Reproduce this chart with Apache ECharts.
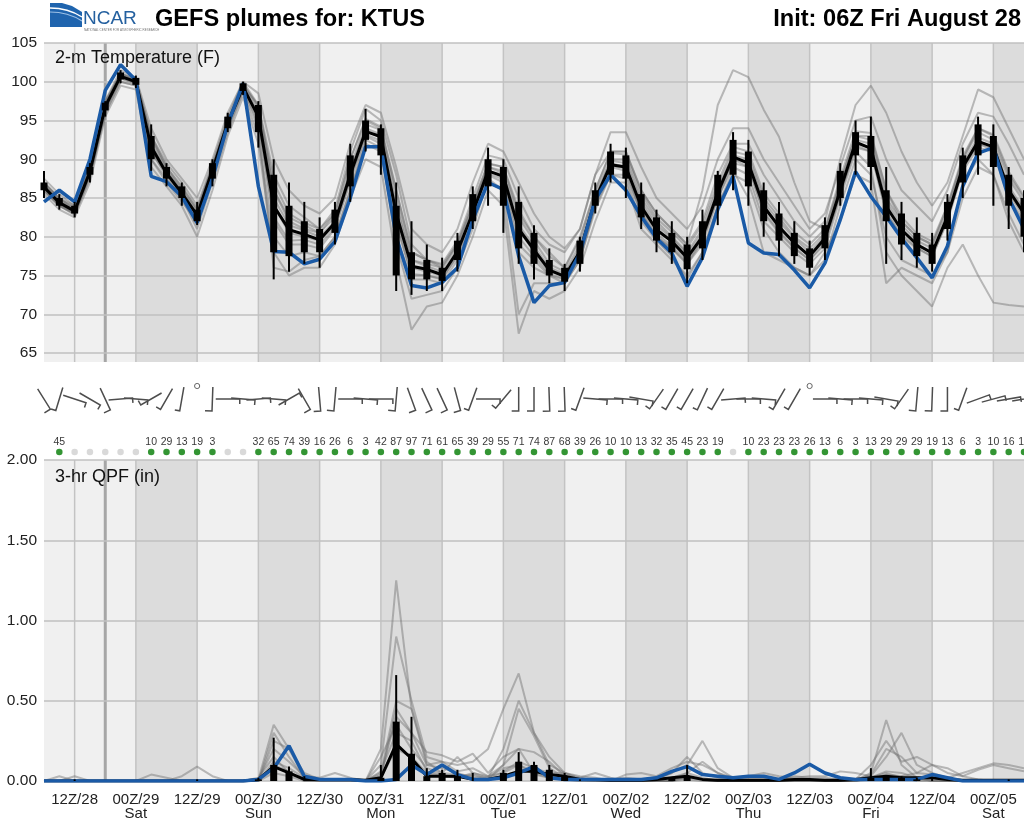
<!DOCTYPE html>
<html><head><meta charset="utf-8">
<script src="https://cdn.jsdelivr.net/npm/echarts@6/dist/echarts.min.js"></script>
<style>html,body{margin:0;padding:0;background:#fff}#c{width:1024px;height:820px}</style>
</head><body><div id="c"></div>
<script>
// ---- time axis (hours since 00Z Aug 28), 3-hourly ----
const hours = [6,9,12,15,18,21,24,27,30,33,36,39,42,45,48,51,54,57,60,63,66,69,72,75,78,81,84,87,90,93,96,99,102,105,108,111,114,117,120,123,126,129,132,135,138,141,144,147,150,153,156,159,162,165,168,171,174,177,180,183,186,189,192,195,198];
const tickHours = [12,24,36,48,60,72,84,96,108,120,132,144,156,168,180,192];
const tickLabels = ['12Z/28','00Z/29\nSat','12Z/29','00Z/30\nSun','12Z/30','00Z/31\nMon','12Z/31','00Z/01\nTue','12Z/01','00Z/02\nWed','12Z/02','00Z/03\nThu','12Z/03','00Z/04\nFri','12Z/04','00Z/05\nSat'];
const nightStart = [24,48,72,96,120,144,168,192];
const nightEnd   = [36,60,84,108,132,156,180,198];
const nowHour = 18;

// ---- 2-m temperature (F) ----
const tMean = [86.4,84.4,83.3,88.4,96.8,100.7,100,91.6,88.2,85.6,82.8,88.6,94.7,99.3,95.5,84,80.9,80.3,79.6,81.8,88,93.6,92.9,83,76.2,75.8,75.1,78.1,83.1,88.5,87.8,81,78.3,75.7,74.9,78.1,84.8,89.3,89,83.9,80.9,79.4,77.3,80,85.7,90.3,89.5,83.9,81.3,79.2,77.5,79.8,86,92.2,91.4,83.9,80.9,79,77.9,82.6,89,92.3,91.6,86,83];
const tDet = [84.5,86,84.5,90,98.9,102.2,100.2,87.8,87.1,85.2,81.8,87.5,94.5,99.8,86.5,78.1,78,76.5,77.1,79.4,85,91.6,91.6,80,73.7,73.4,74.1,76,82.2,87,86.1,77.5,71.5,73.7,74.1,77.9,84.8,88,86,82.6,79.8,77.9,73.6,77.3,83.5,87.8,79.2,77.9,77.7,75.7,73.4,76.6,82.2,88.4,85.2,82.6,79.8,77.3,74.7,78.8,86.5,90.8,91.5,85,81];
const tWhLo = [85,83.5,82.5,87,95.5,99.8,99.2,88.5,86.5,84,81.5,86.5,93.5,98.3,91.5,74.5,75.5,76.5,76,79,84.5,91,88,73,72.5,73,73,75.5,81,84,80.5,76.5,74.5,74,73,75.5,83,87,85,81,78,76.5,74,77,81.5,86,84,80,77.5,76.5,75,77,84,88,86,76.5,77,76,75.5,79.5,85,88,84,81,78];
const tBoxLo = [86,84,83,88,96.3,100.3,99.6,90,87.5,85,82,87.5,94,98.8,93.5,78,77.5,78,78,80.5,86.5,92.5,90.5,75,74.5,74.5,74.3,77,82,86.5,84,78.5,76.5,75,74.2,76.5,84,88,87.5,82.5,79.5,78,75.8,78.5,84,88,86.5,82,79.5,77.5,76,78.5,85,90.5,89,82,79,77.5,76.5,81,87,90.5,89,84,80];
const tBoxHi = [87,85,84,89,97.3,101.2,100.5,93,89,86.5,83.5,89.5,95.5,99.8,97,88,84,82,81,83.5,90.5,95,94,84,78,77,76,79.5,85.5,90,89,84.5,80.5,77,76,79.5,86,91,90.5,85.5,82.5,80.5,79,82,88,92.5,91,86,83,80.5,78.5,81.5,88.5,93.5,93,86,83,80.5,79,84.5,90.5,94.5,93,88,85];
const tWhHi = [88.5,85.5,84.5,89.5,97.5,101.5,100.8,94.5,89.5,87,84.5,90,96,100,97.5,90,87,84.5,82.5,84.5,92,96.5,94.5,87,82,79,77.3,80.5,86.5,91.5,90,86.5,81.5,78.5,76.5,80,87,92,91.5,87,83.5,82,80,83.5,88.5,93.5,92.5,87,84.5,82,79.5,82.5,89.5,95,95.5,89,84.5,82.5,80.5,85.5,91.5,95.5,94.5,89,86];
const tMem1 = [87,85,84,89,97.5,101,100.5,93,89.5,87,84,89.5,95.5,100,97,88,84,82.5,81,83.5,91,96.5,95,88,79,77,76.5,79.5,85,90.5,90,85,81,79,78,81,88,91,91,86,83,81,79,86,97,101.5,100.6,96.4,92.9,87,82,81,87,93,93,86,82,80,79,84,90,94,93,88,85];
const tMem2 = [86,84,83,87.5,96,100,99.5,90,87,84.5,82,87.5,94,98.5,93,80,77.5,78,77.5,80,86,92,91,80,74.5,74.5,74,77,82,87,86,78,76,75,74,77,84,88,88,83,80,78.5,76.5,79,85,89,88,82,80,78,76.5,78.5,85,91,89,78,75,73,71,76,79,75,71.5,71.2,71];
const tMem3 = [85.5,83.5,82.5,87,95.5,99.5,99,89,86.5,84,80,86,93,98,92,78,75,76,76,79,85,90,89,77,68,71,71.5,75,80,86,84,67.5,73,72,73,76,82,87,87,81,79,77,75,78,84,88,87,81,78,76,75,77,84,90,88,80,77,76,75,78,87,90,88,82,78];
const tMem4 = [87.5,85.5,84,89.5,97.5,101.5,100.5,94,90,87.5,85,90,96,100,98.5,90,86,84,83,85,92,97,96,89,81,79,78,81,87,92,91,87,83,80,78.5,81,88,93.5,93.5,89,85,83,81,84,90,94,94,90,87,84,81,83,89,95,95.5,90,86,84,82,86,92,96,95.5,92,88];
const tMem5 = [87,85,83.5,89,97,101,100,93,89,86.5,83.5,89,95,99.5,97,86,82,81,80.5,83,90,95,94,86,78,77,76,79,84,89.5,89,83,80,78,76,80,86,91,91,86,83,81,79,82,88,92,92,88,85,82,80,82,90,97,99.5,96,91,87,84,87,93,99,98,94,90];
const tMem6 = [86,84,83,88,96.5,100.5,99.8,91,88,85.5,82.5,88,94.5,99,95,82,79,79,78.5,81,87,93,92,82,75,75,74.5,77.5,82.5,88,87,79,77,75,74.5,77.5,84,89,88.5,83,80,78.5,76.5,79.5,85,89.5,89,83,80.5,78.5,77,79,85.5,91.5,91,83,80,78.5,77.5,82,88.5,91.5,91,85,82];
const tMem7 = [86.8,84.8,83.6,88.8,97.2,101,100.2,92.5,88.8,86,83.3,89,95,99.6,96.5,86,82.5,81.5,80.5,82.5,89,94.5,93.8,85,77,76.5,76,79,84,89,88.5,82.5,79.5,76.5,75.5,79,85.5,90,90,85,82,80,78,81,86.5,91,90.5,85,82.5,80,78.5,80.5,87,93,92.5,85,82,80,79,83.5,90,93.5,92.5,87.5,84.5];
const tMem8 = [85.8,84,82.8,87.8,96,100,99.5,90,87.5,85,81,87,93.5,98.8,94,76,75.5,77,77.5,80,86,92.5,91.5,79,72,72.5,73,76,81,87.5,86,70,74,74,74,77,83.5,88,87.5,82,79.5,77.5,74.5,78,84,88.5,85,78,77,76,75,78,82,88,87,74,76,75,74,78,85,89,88,83,79];
const tMem9 = [86.2,84.2,83.2,88.2,96.6,100.6,99.9,91.8,88.3,85.8,82.8,88.5,94.6,99.2,95.8,84,80.5,80,79.5,81.5,88,93.5,93,83,76,75.5,75,78,83,88.5,88,81,78,75.5,75,78,84.5,89.5,89,84,81,79.5,77,80,85.5,90,89.5,84,81.5,79,77.5,80,86,92,91.5,84,81,79,78,82.5,89,92,91.5,86,83];
const tMem10 = [86.6,84.6,83.4,88.6,97,100.8,100.1,92,88.5,85.9,83,88.8,94.8,99.4,96,85,81.5,80.8,80,82,88.5,94,93.2,84,77,76.2,75.5,78.5,83.5,89,88.2,81.5,78.8,76,75.2,78.5,85,89.8,89.5,84.5,81.5,79.8,77.8,80.5,86,90.5,90,84.5,82,79.8,78,80.2,86.5,92.5,92,84.5,81.5,79.5,78.5,83,89.5,92.8,92,86.5,83.5];
const tMem11 = [86.3,84.1,83,88.1,96.4,100.4,99.7,91,87.8,85.3,82.4,88.2,94.3,99,94.6,82.5,79.5,79.6,79,81.2,87.4,93.2,92.4,81.5,75.2,75,74.6,77.6,82.8,88.2,87.4,80,77.5,75.2,74.6,77.6,84.2,89.2,88.8,83.4,80.4,78.8,76.8,79.6,85.4,90,89,83.2,80.8,78.6,77,79.4,85.6,91.8,91,83.2,80.3,78.6,77.4,82.2,88.8,92,91.2,85.6,82.6];
const tMem12 = [86.9,84.9,83.8,89,97.3,101.1,100.3,92.8,89,86.3,83.6,89.2,95.2,99.7,96.8,87,83,81.8,81,83,90,95.2,94.2,86,78,77,76.3,79.2,84.4,89.4,89,83.5,80,77.5,76,79.6,86,90.8,90.6,85.6,82.4,80.6,78.6,81.6,87,91.6,91,85.6,83,80.6,79,81,87.6,93.6,93.4,86,82.6,80.4,79.4,84,90.4,94,93.2,88.4,85.2];
const tMembers = [tMem1,tMem2,tMem3,tMem4,tMem5,tMem6,tMem7,tMem8,tMem9,tMem10,tMem11,tMem12];

// ---- winds: direction (deg, from), speed (kt); null = calm ----
const windDir = [148,197,108,120,155,85,95,240,210,190,null,182,90,95,85,95,60,150,175,185,90,95,90,185,160,155,155,165,200,90,220,180,180,178,178,200,95,90,95,100,215,210,210,205,210,85,90,95,210,210,null,90,95,90,95,100,215,185,182,180,200,70,75,80,80];
const windSpd = [10,5,5,5,10,5,5,5,5,5,null,10,5,5,5,5,5,10,10,10,5,5,5,10,10,10,10,10,5,5,5,10,10,10,10,5,5,5,5,5,5,5,5,5,5,5,5,5,5,5,null,5,5,5,5,5,5,10,10,10,5,5,5,5,5];

// ---- probability of precip (%) per 3-h period ending 09Z/28 ... 06Z/05; null = none ----
const popHours = hours.slice(1);
const pop = [45,null,null,null,null,null,10,29,13,19,3,null,null,32,65,74,39,16,26,6,3,42,87,97,71,61,65,39,29,55,71,74,87,68,39,26,10,10,13,32,35,45,23,19,null,10,23,23,23,26,13,6,3,13,29,29,29,19,13,6,3,10,16,19];

// ---- 3-hr QPF (in) ----
const qMean = [0,0,0,0,0,0,0,0,0,0, 0,0,0,0,0.01,0.09,0.05,0.01,0.01,0.01, 0.01,0.005,0.02,0.23,0.14,0.03,0.03,0.03,0.01,0.01, 0.03,0.06,0.06,0.04,0.03,0.01,0.01,0.005,0.005,0.005, 0.01,0.02,0.03,0.01,0.005,0.005,0.005,0.005,0.005,0.01, 0.01,0.005,0.005,0.01,0.02,0.03,0.02,0.02,0.02,0.01, 0.005,0.005,0.005,0.005,0.005];
const qDet = [0,0,0,0,0,0,0,0,0,0, 0,0,0,0,0.01,0.08,0.22,0.03,0.01,0.01, 0.01,0,0,0.01,0.1,0.04,0.1,0.04,0.01,0.01, 0.02,0.05,0.09,0.02,0.01,0.01,0.01,0.01,0.01,0.01, 0.02,0.06,0.09,0.04,0.03,0.02,0.03,0.03,0.01,0.05, 0.105,0.05,0.02,0.01,0.01,0.01,0.01,0.01,0.04,0.02, 0,0,0,0,0];
const qBoxHi = [0,0,0,0,0,0,0,0,0,0, 0,0,0,0,0.01,0.1,0.06,0,0,0, 0,0,0.02,0.37,0.17,0.03,0.05,0.03,0,0, 0.05,0.12,0.1,0.07,0.03,0,0,0,0,0, 0,0.02,0.03,0,0,0,0,0,0,0, 0,0,0,0,0.02,0.03,0.02,0.01,0,0, 0,0,0,0,0];
const qWhHi = [0,0,0.01,0,0,0,0,0,0,0, 0.01,0,0,0,0.02,0.27,0.09,0.03,0,0, 0,0,0.1,0.66,0.4,0.08,0.07,0.07,0.05,0, 0.07,0.18,0.12,0.1,0.05,0.01,0,0,0,0, 0,0.02,0.1,0,0,0,0,0,0,0, 0,0,0,0,0.08,0.03,0.03,0.02,0.02,0, 0,0,0,0.01,0];
const qMem1 = [0,0,0,0,0,0,0,0,0,0, 0,0,0,0,0.02,0.15,0.05,0.01,0,0, 0,0,0.2,1.25,0.45,0.1,0.08,0.05,0.02,0.01, 0.1,0.2,0.05,0.02,0.01,0,0,0,0,0, 0,0,0.03,0.01,0,0,0,0,0,0, 0,0,0,0,0.02,0.05,0.02,0,0,0, 0,0,0,0,0];
const qMem2 = [0,0,0,0,0,0,0,0,0,0, 0,0,0,0,0.01,0.35,0.2,0.05,0.01,0, 0,0,0.1,0.9,0.5,0.15,0.12,0.1,0.12,0.2, 0.45,0.67,0.3,0.1,0.05,0.01,0,0,0,0, 0,0.02,0.05,0.12,0.05,0.01,0,0,0,0, 0,0,0,0,0.05,0.38,0.1,0.02,0,0, 0,0,0,0,0];
const qMem3 = [0,0,0,0,0,0,0,0,0,0, 0,0,0,0,0,0.3,0.15,0.02,0,0, 0,0,0.05,0.5,0.45,0.12,0.05,0.15,0.05,0.02, 0.2,0.5,0.3,0.15,0.05,0.02,0,0,0,0.01, 0.01,0.05,0.1,0.25,0.08,0.02,0,0,0,0, 0,0,0,0,0.03,0.15,0.3,0.1,0.05,0.02, 0,0,0,0,0];
const qMem4 = [0,0,0,0,0,0,0,0,0,0.03, 0.09,0.03,0,0,0,0.25,0.2,0.02,0,0, 0,0,0.03,0.45,0.3,0.18,0.16,0.12,0.17,0.05, 0.15,0.2,0.18,0.12,0.03,0.01,0,0.01,0.02,0.01, 0.02,0.05,0.15,0.05,0.02,0.01,0.02,0.02,0.01,0.03, 0.02,0.02,0.01,0.01,0.04,0.2,0.15,0.05,0.1,0.05, 0.03,0.07,0.1,0.08,0.06];
const qMem5 = [0,0,0,0,0,0,0,0,0,0, 0,0,0,0,0.01,0.2,0.12,0.03,0.02,0.05, 0.02,0,0.04,0.4,0.3,0.1,0.12,0.06,0.08,0.03, 0.1,0.45,0.28,0.08,0.02,0.02,0.05,0.02,0,0, 0,0,0.02,0.01,0,0,0,0,0,0, 0,0,0,0.01,0.1,0.25,0.12,0.15,0.1,0.08, 0.03,0.01,0,0,0];
const qMem6 = [0,0.03,0,0,0,0,0,0.04,0.02,0, 0,0,0,0,0,0.12,0.08,0.02,0,0, 0,0,0.15,0.35,0.2,0.08,0.05,0.04,0.03,0.02, 0.08,0.1,0.06,0.03,0.02,0.01,0,0,0,0, 0,0,0.01,0,0,0,0,0,0,0, 0,0,0,0,0.02,0.06,0.05,0.02,0,0, 0,0,0,0,0];
const qMem7 = [0,0,0,0,0,0,0,0,0,0, 0,0,0,0,0,0.05,0.03,0,0,0, 0,0,0.02,0.2,0.15,0.05,0.03,0.02,0.05,0.03, 0.05,0.1,0.04,0.02,0.01,0,0,0,0.04,0.05, 0.03,0.08,0.12,0.1,0.05,0.02,0.03,0.05,0.03,0.02, 0.03,0.03,0.06,0.05,0.03,0.02,0.03,0.05,0.04,0.02, 0.05,0.08,0.11,0.1,0.08];
const qMem8 = [0,0,0.03,0,0,0,0,0,0,0, 0,0,0,0,0,0.1,0.06,0,0,0, 0,0,0.06,0.3,0.25,0.06,0.04,0.02,0.04,0.01, 0.06,0.12,0.08,0.05,0.05,0.03,0.02,0,0,0, 0,0,0.05,0.02,0,0,0,0,0,0, 0,0,0,0,0.01,0.04,0.03,0.01,0.01,0, 0,0,0,0,0];
const qMembers = [qMem1,qMem2,qMem3,qMem4,qMem5,qMem6,qMem7,qMem8];

// ---------------------------------------------------------------
const FONT = "'Liberation Sans', Arial, Helvetica, sans-serif";
const BLUE = '#1a5aa6';
const zip = arr => arr.map((v, i) => [hours[i], v]);
const chart = echarts.init(document.getElementById('c'), null, {renderer: 'canvas'});

const G_TEMP = 0, G_TEMP_BG = 1, G_WIND = 2, G_QPF = 3, G_QPF_BG = 4;
const grids = [
  {left: 44, top: 43, width: 980, height: 310},
  {left: 44, top: 43, width: 980, height: 319},
  {left: 44, top: 370, width: 980, height: 90},
  {left: 44, top: 460, width: 980, height: 321},
  {left: 44, top: 460, width: 980, height: 321}
].map(g => Object.assign({outerBoundsMode: 'none', containLabel: false, show: false}, g));

function hiddenX(gi) {
  return {type: 'value', gridIndex: gi, min: 6, max: 198, show: false, splitLine: {show: false}};
}
const xAxes = [
  hiddenX(0), hiddenX(1), hiddenX(2),
  {type: 'value', gridIndex: 3, min: 6, max: 198,
   axisLine: {show: false}, axisTick: {show: false}, splitLine: {show: false},
   axisLabel: {customValues: tickHours, formatter: v => tickLabels[tickHours.indexOf(v)] || '',
     fontFamily: FONT, fontSize: 15, color: '#222', lineHeight: 14, margin: 12, hideOverlap: false}},
  hiddenX(4)
];
const yAxes = [
  {type: 'value', gridIndex: 0, min: 65, max: 105, interval: 5,
   axisLine: {show: false}, axisTick: {show: false},
   axisLabel: {fontFamily: FONT, fontSize: 15.5, color: '#222', margin: 7},
   splitLine: {lineStyle: {color: '#c0c0c0', width: 1.5}}},
  {type: 'value', gridIndex: 1, min: 0, max: 1, show: false, splitLine: {show: false}},
  {type: 'value', gridIndex: 2, min: 0, max: 90, inverse: true, show: false, splitLine: {show: false}},
  {type: 'value', gridIndex: 3, min: 0, max: 2, interval: 0.5,
   axisLine: {show: false}, axisTick: {show: false},
   axisLabel: {fontFamily: FONT, fontSize: 15.5, color: '#222', margin: 7, formatter: v => v.toFixed(2)},
   splitLine: {lineStyle: {color: '#c0c0c0', width: 1.5}}},
  {type: 'value', gridIndex: 4, min: 0, max: 1, show: false, splitLine: {show: false}}
];

function bandSeries(gi) {
  const data = [[6, 198, 0]].concat(nightStart.map((s, i) => [s, nightEnd[i], 1]));
  return {type: 'custom', xAxisIndex: gi, yAxisIndex: gi, z: -3, silent: true, animation: false,
    data, encode: {x: [0, 1], y: 2},
    renderItem(params, api) {
      const p0 = api.coord([api.value(0), 1]), p1 = api.coord([api.value(1), 0]);
      return {type: 'rect', shape: {x: p0[0], y: p0[1], width: p1[0] - p0[0], height: p1[1] - p0[1]},
        style: {fill: api.value(2) ? '#dcdcdc' : '#f0f0f0'}};
    }};
}
function vlineSeries(gi) {
  const data = tickHours.map(h => [h, 0]).concat([[nowHour, 1]]);
  return {type: 'custom', xAxisIndex: gi, yAxisIndex: gi, z: -2, silent: true, animation: false,
    data, encode: {x: 0, y: 1},
    renderItem(params, api) {
      const top = api.coord([api.value(0), 1]), bot = api.coord([api.value(0), 0]);
      const thick = api.value(1) === 1;
      return {type: 'line', shape: {x1: top[0], y1: top[1], x2: bot[0], y2: bot[1]},
        style: {stroke: thick ? '#a6a6a6' : '#c3c3c3', lineWidth: thick ? 3 : 1.5}};
    }};
}
function memberSeries(gi, arr) {
  return {type: 'line', xAxisIndex: gi, yAxisIndex: gi, data: zip(arr), symbol: 'none', silent: true,
    lineStyle: {color: 'rgba(110,110,110,0.45)', width: 2}, z: 2, animation: false};
}
function meanSeries(gi, arr) {
  return {type: 'line', xAxisIndex: gi, yAxisIndex: gi, data: zip(arr), symbol: 'none', silent: true,
    lineStyle: {color: '#000', width: 3}, z: 3, animation: false};
}
function detSeries(gi, arr) {
  return {type: 'line', xAxisIndex: gi, yAxisIndex: gi, data: zip(arr), symbol: 'none', silent: true,
    lineStyle: {color: BLUE, width: 3.5}, z: 4, animation: false};
}
function boxSeries(gi, lo, q1, q3, hi) {
  return {type: 'custom', xAxisIndex: gi, yAxisIndex: gi, z: 5, silent: true, animation: false,
    data: hours.map((h, i) => [h, lo[i], q1[i], q3[i], hi[i]]),
    encode: {x: 0, y: [1, 2, 3, 4]},
    renderItem(params, api) {
      const x = api.value(0);
      const pLo = api.coord([x, api.value(1)]), pQ1 = api.coord([x, api.value(2)]);
      const pQ3 = api.coord([x, api.value(3)]), pHi = api.coord([x, api.value(4)]);
      const children = [];
      if (pLo[1] - pHi[1] > 0.5) children.push({type: 'line',
        shape: {x1: pLo[0], y1: pLo[1], x2: pHi[0], y2: pHi[1]}, style: {stroke: '#000', lineWidth: 2}});
      if (pQ1[1] - pQ3[1] > 0.5) children.push({type: 'rect',
        shape: {x: pQ1[0] - 3.5, y: pQ3[1], width: 7, height: pQ1[1] - pQ3[1]}, style: {fill: '#000'}});
      return {type: 'group', children};
    }};
}

const series = [];
series.push(bandSeries(G_TEMP_BG), vlineSeries(G_TEMP_BG), bandSeries(G_QPF_BG), vlineSeries(G_QPF_BG));
tMembers.forEach(m => series.push(memberSeries(G_TEMP, m)));
series.push(meanSeries(G_TEMP, tMean), detSeries(G_TEMP, tDet), boxSeries(G_TEMP, tWhLo, tBoxLo, tBoxHi, tWhHi));
qMembers.forEach(m => series.push(memberSeries(G_QPF, m)));
const qZero = qMean.map(() => 0);
series.push(meanSeries(G_QPF, qMean), detSeries(G_QPF, qDet), boxSeries(G_QPF, qZero, qZero, qBoxHi, qWhHi));

// wind barbs
series.push({type: 'custom', xAxisIndex: G_WIND, yAxisIndex: G_WIND, z: 5, silent: true, animation: false,
  data: hours.map((h, i) => [h, windDir[i] == null ? -1 : windDir[i], windSpd[i] == null ? 0 : windSpd[i]]),
  encode: {x: 0},
  renderItem(params, api) {
    const h = api.value(0), dir = api.value(1), spd = api.value(2);
    if (dir < 0) {
      const p = api.coord([h, 16]);
      return {type: 'circle', shape: {cx: p[0], cy: p[1], r: 2.6}, style: {stroke: '#666', fill: 'none', lineWidth: 1}};
    }
    const c = api.coord([h, 29]);
    const a = (dir - 90) * Math.PI / 180, dx = Math.cos(a), dy = Math.sin(a);
    const half = 12, L = spd >= 10 ? 7 : 5;
    const tip = [c[0] + dx * half, c[1] + dy * half], tail = [c[0] - dx * half, c[1] - dy * half];
    const f = [tip[0] - dy * L, tip[1] + dx * L];
    return {type: 'polyline', shape: {points: [tail, tip, f]}, style: {stroke: '#4d4d4d', lineWidth: 1.5, fill: null}};
  }});

// probability dots + numbers
series.push({type: 'scatter', xAxisIndex: G_WIND, yAxisIndex: G_WIND, symbolSize: 6.5, silent: true, z: 5, animation: false,
  data: pop.map((p, i) => ({value: [popHours[i], 82], itemStyle: {color: p == null ? '#cfcfcf' : '#007a00'}}))});
series.push({type: 'scatter', xAxisIndex: G_WIND, yAxisIndex: G_WIND, symbolSize: 0, silent: true, z: 5, animation: false,
  data: pop.map((p, i) => p == null ? null : ({value: [popHours[i], 72], label: {formatter: String(p)}})).filter(d => d),
  label: {show: true, position: 'inside', fontFamily: FONT, fontSize: 10.5, color: '#000'}});

const graphic = [
  {type: 'polygon', shape: {points: [[50,3],[62,3],[72,6],[82,12],[82,27],[50,27]]}, style: {fill: '#1f64ae'}},
  {type: 'bezierCurve', shape: {x1: 50, y1: 8, cpx1: 68, cpy1: 8, x2: 82, y2: 17}, style: {stroke: '#ffffff', lineWidth: 1.4, fill: null}},
  {type: 'bezierCurve', shape: {x1: 50, y1: 12, cpx1: 68, cpy1: 12, x2: 82, y2: 21}, style: {stroke: '#9cc0e6', lineWidth: 1.2, fill: null}},
  {type: 'text', style: {text: 'NCAR', x: 83, y: 19, font: '19px ' + FONT, fill: '#24609f', textVerticalAlign: 'middle'}},
  {type: 'text', style: {text: 'NATIONAL CENTER FOR ATMOSPHERIC RESEARCH', x: 84, y: 30, font: '3px ' + FONT, fill: '#777', textVerticalAlign: 'middle'}},
  {type: 'text', style: {text: 'GEFS plumes for: KTUS', x: 155, y: 19, font: 'bold 23.6px ' + FONT, fill: '#000', textVerticalAlign: 'middle'}},
  {type: 'text', style: {text: 'Init: 06Z Fri August 28', x: 1021, y: 19, font: 'bold 23.6px ' + FONT, fill: '#000', textAlign: 'right', textVerticalAlign: 'middle'}},
  {type: 'text', z: 100, style: {text: '2-m Temperature (F)', x: 55, y: 58, font: '18px ' + FONT, fill: '#111', textVerticalAlign: 'middle'}},
  {type: 'text', z: 100, style: {text: '3-hr QPF (in)', x: 55, y: 477, font: '18px ' + FONT, fill: '#111', textVerticalAlign: 'middle'}}
];

chart.setOption({
  animation: false,
  backgroundColor: '#ffffff',
  grid: grids,
  xAxis: xAxes,
  yAxis: yAxes,
  series,
  graphic
});
</script>
</body></html>
